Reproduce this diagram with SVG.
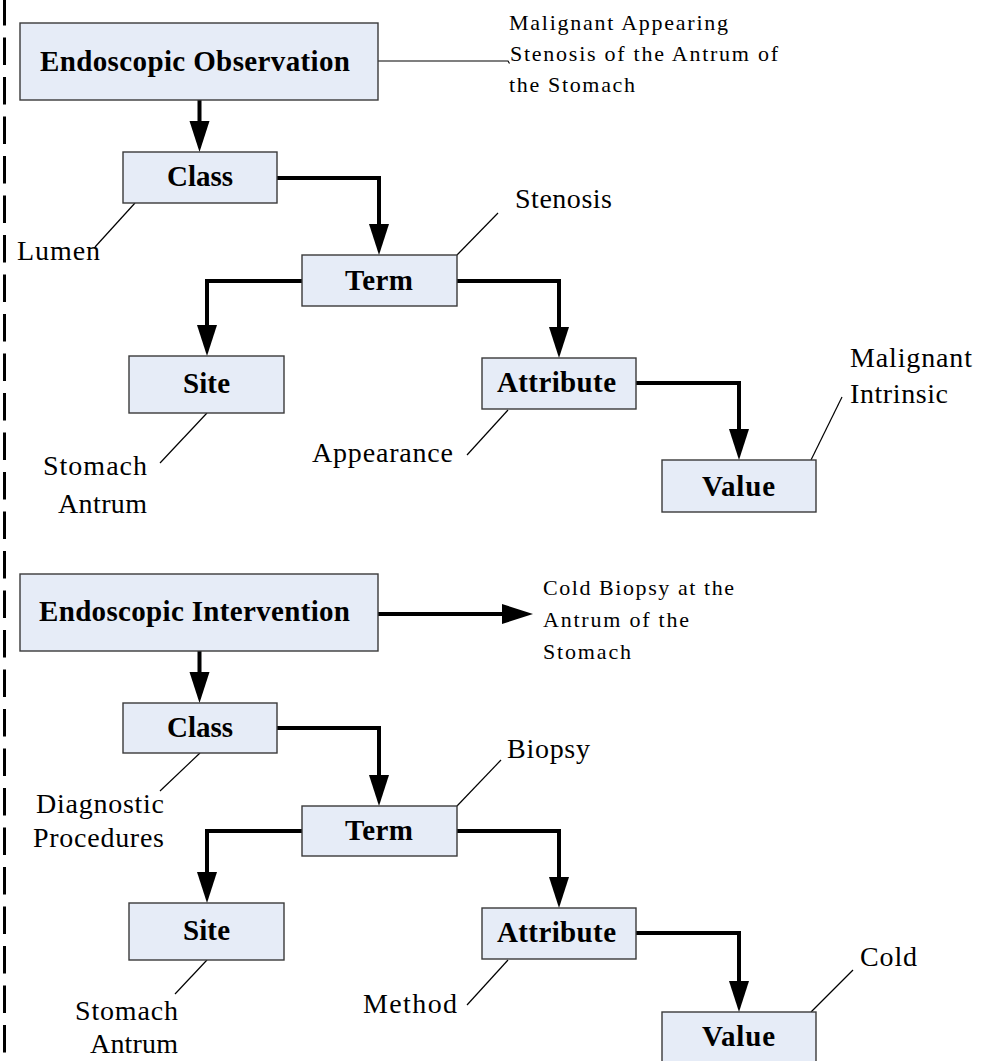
<svg xmlns="http://www.w3.org/2000/svg" width="994" height="1061" viewBox="0 0 994 1061">
  <defs>
    <style>
      .box { fill: #e6ecf7; stroke: #3a3a3a; stroke-width: 1.4; }
      .title { font-weight: bold; font-size: 29px; fill: #000; }
      .label { font-size: 28px; fill: #000; }
      .note { font-size: 22px; fill: #000; }
      .flow { fill: none; stroke: #000; stroke-width: 4; stroke-linecap: round; stroke-linejoin: miter; marker-end: url(#head); }
      .lead { fill: none; stroke: #000; stroke-width: 1.2; }
      .border { fill: none; stroke: #000; stroke-width: 3; stroke-dasharray: 27.5 12; stroke-dashoffset: 2; }
    </style>
    <marker id="head" markerUnits="userSpaceOnUse" markerWidth="31" markerHeight="20" refX="3" refY="10" orient="auto" overflow="visible">
      <path d="M0,0 L31,10 L0,20 Z" fill="#000"/>
    </marker>
  </defs>

  <rect width="994" height="1061" fill="#fff"/>

  <!-- left dashed margin -->
  <path class="border" d="M4.5,0 V1061"/>

  <!-- connectors -->
  <g id="connectors">
    <path class="flow" d="M199.5,100 V124"/>
    <path class="flow" d="M277,178 H379 V227"/>
    <path class="flow" d="M302,281 H207 V328"/>
    <path class="flow" d="M457,281 H559 V330"/>
    <path class="flow" d="M636,383 H739 V432"/>

    <path class="flow" d="M199.5,651 V675"/>
    <path class="flow" d="M277,728 H379 V778"/>
    <path class="flow" d="M302,831 H207 V875"/>
    <path class="flow" d="M457,831 H559 V880"/>
    <path class="flow" d="M636,933 H739 V984"/>
    <path class="flow" d="M378,614 H505"/>

    <path class="lead" d="M378,61 H508 l1.5,2.5"/>
    <path class="lead" d="M457,255 L498,213"/>
    <path class="lead" d="M135,203 L95,247"/>
    <path class="lead" d="M207,413 L160,463"/>
    <path class="lead" d="M508,410 L467,455"/>
    <path class="lead" d="M811,460 L842,397"/>

    <path class="lead" d="M457,806 L501,760"/>
    <path class="lead" d="M200,753 L160,791"/>
    <path class="lead" d="M207,960 L175,994"/>
    <path class="lead" d="M508,960 L467,1005"/>
    <path class="lead" d="M811,1012 L853,970"/>
  </g>

  <g font-family="Liberation Serif, Tinos, Times New Roman, serif">
    <!-- observation tree -->
    <g id="obs">
      <rect class="box" x="20" y="23" width="358" height="77"/>
      <text class="title" x="40" y="71" textLength="310">Endoscopic Observation</text>
    </g>
    <g id="obs-class">
      <rect class="box" x="123" y="152" width="154" height="51"/>
      <text class="title" x="167" y="186" textLength="66">Class</text>
    </g>
    <g id="obs-term">
      <rect class="box" x="302" y="255" width="155" height="51"/>
      <text class="title" x="345" y="290" textLength="68">Term</text>
    </g>
    <g id="obs-site">
      <rect class="box" x="129" y="356" width="155" height="57"/>
      <text class="title" x="183" y="393" textLength="47">Site</text>
    </g>
    <g id="obs-attribute">
      <rect class="box" x="482" y="358" width="154" height="51"/>
      <text class="title" x="497" y="392" textLength="119">Attribute</text>
    </g>
    <g id="obs-value">
      <rect class="box" x="662" y="460" width="154" height="52"/>
      <text class="title" x="702" y="496" textLength="73">Value</text>
    </g>

    <g id="obs-labels">
      <text class="note" x="509" y="30" textLength="219">Malignant Appearing</text>
      <text class="note" x="510" y="61" textLength="268">Stenosis of the Antrum of</text>
      <text class="note" x="509" y="92" textLength="126">the Stomach</text>
      <text class="label" x="515" y="208" textLength="97">Stenosis</text>
      <text class="label" x="17" y="260" textLength="83">Lumen</text>
      <text class="label" x="43" y="475" textLength="104">Stomach</text>
      <text class="label" x="58" y="513" textLength="89">Antrum</text>
      <text class="label" x="312" y="462" textLength="141">Appearance</text>
      <text class="label" x="850" y="367" textLength="122">Malignant</text>
      <text class="label" x="850" y="403" textLength="98">Intrinsic</text>
    </g>

    <!-- intervention tree -->
    <g id="int">
      <rect class="box" x="20" y="574" width="358" height="77"/>
      <text class="title" x="39" y="621" textLength="311">Endoscopic Intervention</text>
    </g>
    <g id="int-class">
      <rect class="box" x="123" y="703" width="154" height="50"/>
      <text class="title" x="167" y="737" textLength="66">Class</text>
    </g>
    <g id="int-term">
      <rect class="box" x="302" y="806" width="155" height="50"/>
      <text class="title" x="345" y="840" textLength="68">Term</text>
    </g>
    <g id="int-site">
      <rect class="box" x="129" y="903" width="155" height="57"/>
      <text class="title" x="183" y="940" textLength="47">Site</text>
    </g>
    <g id="int-attribute">
      <rect class="box" x="482" y="908" width="154" height="51"/>
      <text class="title" x="497" y="942" textLength="119">Attribute</text>
    </g>
    <g id="int-value">
      <rect class="box" x="662" y="1012" width="154" height="56"/>
      <text class="title" x="702" y="1046" textLength="73">Value</text>
    </g>

    <g id="int-labels">
      <text class="note" x="543" y="595" textLength="191">Cold Biopsy at the</text>
      <text class="note" x="543" y="627" textLength="146">Antrum of the</text>
      <text class="note" x="543" y="659" textLength="88">Stomach</text>
      <text class="label" x="507" y="758" textLength="83">Biopsy</text>
      <text class="label" x="36" y="813" textLength="128">Diagnostic</text>
      <text class="label" x="33" y="847" textLength="131">Procedures</text>
      <text class="label" x="75" y="1020" textLength="103">Stomach</text>
      <text class="label" x="90" y="1053" textLength="88">Antrum</text>
      <text class="label" x="363" y="1013" textLength="94">Method</text>
      <text class="label" x="860" y="966" textLength="57">Cold</text>
    </g>
  </g>
</svg>
